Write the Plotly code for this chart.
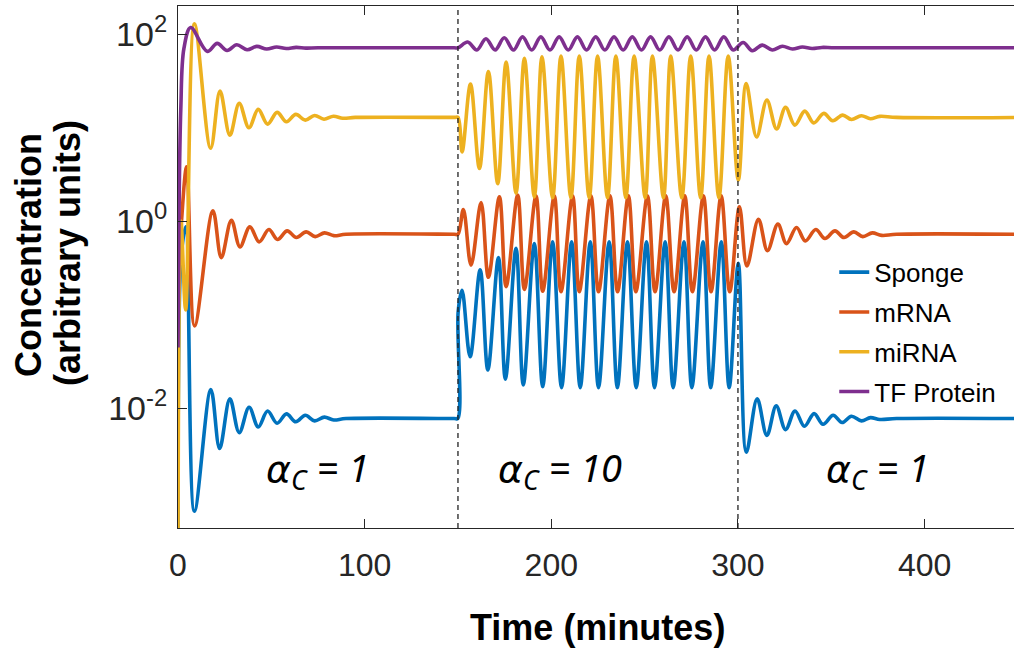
import plotly.graph_objects as go

# ---------------- data (log10 of concentration) ----------------
sponge_t = [0, 0.6, 1.8, 4.1, 8.8, 17.6, 22.3, 27.8, 32.8, 38.1, 43.0, 48.0, 53.1, 58.1, 63.1,
            68.2, 73.2, 78.4, 83.4, 90, 148, 149.9,
            150.1, 152.2, 156.5, 161.9, 166.0, 171.7, 175.4, 181.1, 185.0, 190.9, 195.4, 200.7,
            205.5, 210.9, 215.5, 220.9, 225.3, 231.0, 235.4, 240.8, 245.5, 251.0, 255.3, 261.0,
            265.3, 271.1, 275.3, 281.3, 285.4, 291.1, 295.3, 300.2,
            304.5, 310.3, 315.5, 320.5, 325.5, 330.6, 335.6, 340.8, 345.6, 351.0, 355.8, 360.8,
            366.2, 371.0, 376.0, 385, 450]
sponge_log = [-3.5, -1.0, -0.35, -0.06, -3.1, -1.80, -2.43, -1.90, -2.26, -1.99, -2.20, -2.03, -2.16, -2.06, -2.145,
              -2.075, -2.135, -2.095, -2.125, -2.11, -2.11, -2.11,
              -0.97, -0.74, -1.45, -0.52, -1.59, -0.39, -1.69, -0.29, -1.75, -0.24, -1.77, -0.22,
              -1.78, -0.22, -1.78, -0.22, -1.78, -0.22, -1.78, -0.22, -1.78, -0.22, -1.78, -0.22,
              -1.78, -0.22, -1.78, -0.22, -1.78, -0.22, -1.78, -0.45,
              -2.47, -1.90, -2.29, -1.975, -2.228, -2.029, -2.193, -2.057, -2.171, -2.075, -2.153, -2.085,
              -2.135, -2.10, -2.12, -2.11, -2.11]

mrna_t = [0, 1.5, 4.6, 8.9, 18.7, 23.2, 28.6, 33.2, 38.5, 43.5, 48.7, 53.3, 58.5, 63.4, 68.7,
          73.5, 78.5, 83.5, 90, 148, 150,
          152.9, 157.0, 162.4, 166.3, 172.2, 175.8, 182.0, 185.6, 191.8, 195.4, 201.6, 205.2,
          211.4, 215.0, 221.2, 225.3, 231.4, 235.5, 241.3, 245.3, 251.5, 255.6, 261.3, 265.8,
          271.5, 275.6, 281.5, 285.6, 291.0, 295.6, 300.8,
          304.8, 311.0, 315.8, 321.4, 326.0, 331.4, 336.1, 341.7, 346.6, 352.0, 356.8, 362.1,
          366.9, 372.0, 377.0, 385, 450]
mrna_log = [-0.5, -0.1, 0.58, -1.12, 0.11, -0.39, 0.01, -0.275, -0.061, -0.221, -0.089, -0.196, -0.104, -0.175, -0.115,
            -0.165, -0.125, -0.155, -0.14, -0.14, -0.14,
            0.125, -0.47, 0.20, -0.60, 0.26, -0.70, 0.28, -0.73, 0.27, -0.75, 0.27, -0.755,
            0.27, -0.755, 0.27, -0.755, 0.27, -0.755, 0.27, -0.755, 0.27, -0.755, 0.27, -0.755,
            0.27, -0.755, 0.27, -0.755, 0.27, -0.755, 0.153,
            -0.48, 0.02, -0.315, -0.032, -0.24, -0.067, -0.211, -0.089, -0.185, -0.104, -0.175, -0.115,
            -0.165, -0.125, -0.152, -0.14, -0.14]

mirna_t = [0, 1.6, 4.1, 8.8, 17.5, 22.5, 27.8, 32.8, 38.0, 43.0, 48.0, 53.1, 58.1, 63.1, 68.2,
           73.2, 78.2, 83.3, 88.3, 95, 148, 150,
           152.2, 156.7, 161.5, 166.3, 171.3, 175.8, 181.1, 185.6, 190.9, 195.0, 200.7, 205.2,
           210.5, 215.0, 220.3, 224.8, 230.1, 234.6, 239.9, 244.4, 250.3, 254.2, 260.1, 264.0,
           269.9, 274.7, 280.0, 284.5, 289.8, 294.8, 300.2,
           304.4, 310.0, 315.5, 320.7, 325.5, 330.5, 335.8, 340.6, 346.0, 350.8, 356.1, 360.8,
           366.1, 371.0, 376.0, 385, 450]
mirna_log = [-3.6, 0.0, -0.95, 2.11, 0.78, 1.39, 0.92, 1.259, 0.998, 1.195, 1.037, 1.163, 1.062, 1.141, 1.08,
             1.13, 1.09, 1.122, 1.10, 1.109, 1.109, 1.109,
             0.741, 1.465, 0.563, 1.60, 0.40, 1.70, 0.30, 1.74, 0.26, 1.757, 0.25, 1.765,
             0.25, 1.765, 0.25, 1.765, 0.25, 1.765, 0.25, 1.765, 0.25, 1.765, 0.25, 1.765,
             0.25, 1.765, 0.25, 1.765, 0.25, 1.765, 0.44,
             1.47, 0.90, 1.294, 0.985, 1.216, 1.027, 1.176, 1.051, 1.152, 1.073, 1.134, 1.087,
             1.127, 1.095, 1.12, 1.109, 1.109]

tf_t = [0, 0.5, 1.5, 3.2, 6.8, 15.7, 21.0, 26.3, 31.5, 37.0, 42.2, 47.5, 52.8, 58.0, 63.3,
        68.5, 75, 148, 150,
        155.2, 160.1, 165.0, 169.9, 174.8, 179.7, 184.6, 189.5, 194.4, 199.3, 204.2, 209.1,
        214.0, 218.9, 223.8, 228.7, 233.6, 238.5, 243.4, 248.3, 253.2, 258.1, 263.0, 267.9,
        272.8, 277.7, 282.6, 287.5, 292.4, 297.5,
        302.8, 307.7, 313.0, 318.4, 323.8, 329.2, 334.5, 339.7, 345.0, 352, 450]
tf_log = [-1.35, 0.0, 1.2, 1.85, 2.07, 1.815, 1.90, 1.825, 1.885, 1.832, 1.868, 1.84, 1.862, 1.846, 1.858,
          1.85, 1.853, 1.853, 1.853,
          1.915, 1.83, 1.95, 1.83, 1.96, 1.83, 1.97, 1.83, 1.97, 1.83, 1.97, 1.83,
          1.97, 1.83, 1.97, 1.83, 1.97, 1.83, 1.97, 1.83, 1.97, 1.83, 1.97, 1.83,
          1.97, 1.83, 1.97, 1.83, 1.97, 1.83,
          1.91, 1.822, 1.882, 1.83, 1.87, 1.84, 1.862, 1.846, 1.857, 1.853, 1.853]

series_names = ["Sponge", "mRNA", "miRNA", "TF Protein"]
series_colors = ["#0072BD", "#D95319", "#EDB120", "#7E2F8E"]
series_t = [sponge_t, mrna_t, mirna_t, tf_t]
series_log = [sponge_log, mrna_log, mirna_log, tf_log]

x_ticks = [0, 100, 200, 300, 400]
y_tick_vals = [0.01, 1, 100]
y_tick_text = ["10<sup>-2</sup>", "10<sup>0</sup>", "10<sup>2</sup>"]
switch_times = [150, 300]
alpha_glyph = '<span style="font-family:DejaVu Sans">α</span>'
regime_values = ["1", "10", "1"]
regime_label_x = [75, 204.5, 374.5]

# ---------------- figure ----------------
fig = go.Figure()
for name, color, ts, lg in zip(series_names, series_colors, series_t, series_log):
    assert len(ts) == len(lg), name
    fig.add_trace(go.Scatter(
        x=ts, y=[10 ** v for v in lg], mode="lines", name=name,
        legendgroup=name,
        line=dict(color=color, width=3.6, shape="spline", smoothing=1.0),
    ))

axis_color = "#262626"
fig.update_layout(
    width=1014, height=648,
    margin=dict(l=178, r=0, t=6, b=120),
    paper_bgcolor="white", plot_bgcolor="white",
    font=dict(family="Liberation Sans, Arial, sans-serif", color=axis_color),
    showlegend=True,
    legend=dict(
        x=0.785, y=0.535, xanchor="left", yanchor="top",
        bgcolor="rgba(0,0,0,0)", borderwidth=0,
        font=dict(size=26, color="black", family="Liberation Sans, Arial, sans-serif"),
        tracegroupgap=3,
    ),
    xaxis=dict(
        range=[0, 447.9], tickvals=x_ticks, ticks="inside", ticklen=9, tickwidth=1,
        tickcolor=axis_color, showline=True, linecolor=axis_color, linewidth=1,
        mirror="ticks", showgrid=False, zeroline=False,
        tickfont=dict(size=32, color=axis_color), ticklabelstandoff=9,
    ),
    yaxis=dict(
        type="log", range=[-3.28, 2.30], tickvals=y_tick_vals, ticktext=y_tick_text,
        ticks="inside", ticklen=9, tickwidth=1, tickcolor=axis_color,
        showline=True, linecolor=axis_color, linewidth=1, mirror=False,
        showgrid=False, zeroline=False,
        tickfont=dict(size=34, color=axis_color), ticklabelstandoff=3,
    ),
)

for xs in switch_times:
    fig.add_shape(type="line", x0=xs, x1=xs, y0=0, y1=1, xref="x", yref="paper",
                  line=dict(color="#222222", width=1.3, dash="5px,4px"), layer="above")

for val, xl in zip(regime_values, regime_label_x):
    fig.add_annotation(x=xl, y=0.112, xref="x", yref="paper",
                       text="<i>" + alpha_glyph + "<sub>C</sub> = " + val + "</i>",
                       showarrow=False, xanchor="center", yanchor="middle",
                       font=dict(size=38, color="black", family="Noto Sans, sans-serif"))

# axis titles
fig.add_annotation(x=(597 - 178) / 836, y=1 - (627 - 6) / 522, xref="paper", yref="paper",
                   text="<b>Time (minutes)</b>", showarrow=False, xanchor="center", yanchor="middle",
                   font=dict(size=36, color="black"))
fig.add_annotation(x=(28 - 178) / 836, y=1 - (255 - 6) / 522, xref="paper", yref="paper",
                   text="<b>Concentration</b>", showarrow=False, textangle=-90,
                   xanchor="center", yanchor="middle", font=dict(size=36, color="black"))
fig.add_annotation(x=(67 - 178) / 836, y=1 - (253 - 6) / 522, xref="paper", yref="paper",
                   text="<b>(arbitrary units)</b>", showarrow=False, textangle=-90,
                   xanchor="center", yanchor="middle", font=dict(size=36, color="black"))

fig.write_html("out.html", config={"displayModeBar": False},
               post_script="document.body.style.margin='0';document.body.style.padding='0';")
